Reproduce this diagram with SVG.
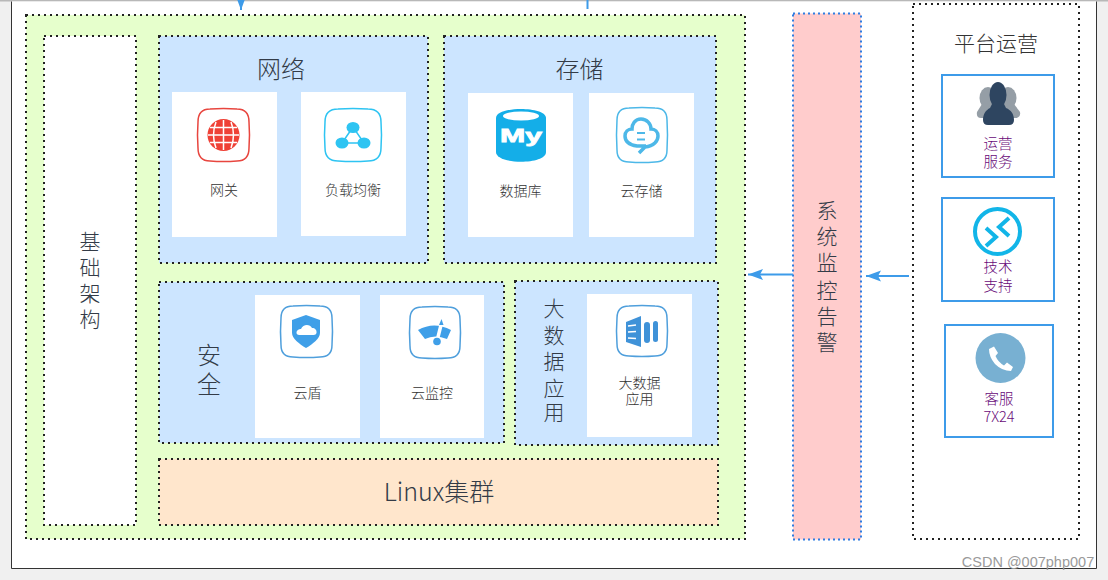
<svg xmlns="http://www.w3.org/2000/svg" width="1108" height="580" viewBox="0 0 1108 580">
<defs>
<style>
text{font-family:"Noto Sans CJK SC","Liberation Sans",sans-serif;text-anchor:middle}
.dot{stroke:#222;stroke-width:2;stroke-dasharray:2 4}
.panel{fill:#cce5ff}
.card{fill:#fff}
.title{font-size:24px;fill:#333b47;font-weight:300}
.lab{font-size:14px;fill:#333;font-weight:300}
.side{font-size:21px;fill:#333b47;font-weight:300}
.ops{fill:#fff;stroke:#3d9be9;stroke-width:2}
.oplab{font-size:14.500px;fill:#680a78;font-weight:300}
.conn{stroke:#3d9be9;stroke-width:2;fill:none}
.sq{fill:#fff;stroke:#4f9fdc;stroke-width:1.500}
.blue{fill:#3f9fe8}
</style>
<marker id="arr" markerUnits="userSpaceOnUse" markerWidth="16" markerHeight="12" refX="15" refY="6" orient="auto"><path d="M0 0.500L15 6L0 11.500L3 6Z" fill="#3d9be9"/></marker>
</defs>
<rect width="1108" height="580" fill="#f0f0f0"/>
<rect x="0" y="0" width="1108" height="1.500" fill="#b8b8b8"/>
<rect x="11.500" y="1.500" width="1085" height="567" fill="#fff"/>
<path d="M11.500 1.500V568.500H1096.500V1.500" fill="none" stroke="#333" stroke-width="1"/>

<g id="infra">
<rect x="26" y="15" width="719" height="524" fill="#e6ffcc" class="dot"/>
<rect x="44" y="36" width="92" height="489" fill="#fff" class="dot"/>
<text class="side"><tspan x="90" y="249">基</tspan><tspan x="90" y="275">础</tspan><tspan x="90" y="301">架</tspan><tspan x="90" y="327">构</tspan></text>
</g>

<g id="network">
<rect x="159" y="36" width="269" height="227" class="panel dot"/>
<text class="title" x="281" y="78">网络</text>
<rect x="172" y="92" width="105" height="145" class="card"/>
<rect x="301" y="92" width="105" height="144" class="card"/>
<g id="gateway">
<path d="M210 109Q223.500 108 237 109Q249 109 249 122Q250 135 249 148Q249 161 237 161Q223.500 162 210 161Q198 161 198 148Q197 135 198 122Q198 109 210 109Z" fill="#fff" stroke="#e8463f" stroke-width="1.500"/>
<circle cx="223.500" cy="135" r="16" fill="#ef4136"/>
<path d="M208 135H239M210 127.500H237M210 142.500H237M223.500 120V150M216 122Q211 135 216 148M231 122Q236 135 231 148" fill="none" stroke="#fff" stroke-width="1.500"/>
<text class="lab" x="224" y="195">网关</text>
</g>
<g id="lb">
<path d="M338 109Q353 108 368 109Q381 109 381 122Q382 135 381 148Q381 161 368 161Q353 162 338 161Q325 161 325 148Q324 135 325 122Q325 109 338 109Z" fill="#fff" stroke="#2ec4f2" stroke-width="1.500"/>
<path d="M353 127L342 143H364Z" fill="none" stroke="#2ec4f2" stroke-width="1.500"/>
<ellipse cx="353" cy="127.500" rx="6.500" ry="5.500" fill="#2ec4f2"/><ellipse cx="342" cy="143" rx="6.500" ry="5.500" fill="#2ec4f2"/><ellipse cx="364" cy="143" rx="6.500" ry="5.500" fill="#2ec4f2"/>
<text class="lab" x="353" y="195">负载均衡</text>
</g>
</g>

<g id="storage">
<rect x="444" y="36" width="272" height="227" class="panel dot"/>
<text class="title" x="579.500" y="78">存储</text>
<rect x="468" y="93" width="105" height="144" class="card"/>
<rect x="589" y="93" width="105" height="144" class="card"/>
<g id="db">
<path d="M496 118C496 106 546 106 546 118V152C546 165 496 165 496 152Z" fill="#14aee8"/>
<ellipse cx="521" cy="116" rx="18" ry="4.500" fill="#fff"/>
<text x="500" y="142" textLength="42" lengthAdjust="spacingAndGlyphs" style="font-family:'Liberation Sans',sans-serif;font-weight:700;font-size:19px;fill:#fff;stroke:#fff;stroke-width:0.800;text-anchor:start">My</text>
<text class="lab" x="520.500" y="196">数据库</text>
</g>
<g id="cloudstore">
<path d="M629 108Q642 107 655 108Q667 108 667 120Q668 135 667 150Q667 162 655 162Q642 163 629 162Q617 162 617 150Q616 135 617 120Q617 108 629 108Z" fill="#fff" stroke="#4db8e8" stroke-width="1.500"/>
<path d="M639 153L645 147C654 146 658 141 658 136C658 132 655 129 651 129C651 124 647 119 641 119C635 119 632 124 632 129C628 129 625 132 625 136C625 142 630 145 637 146L646 146" fill="none" stroke="#4db8e8" stroke-width="3.500"/>
<path d="M637 133H645M637 139.500H645" stroke="#4db8e8" stroke-width="2"/>
<text class="lab" x="641.500" y="196">云存储</text>
</g>
</g>

<g id="security">
<rect x="159" y="282" width="345" height="161" class="panel dot"/>
<text class="title"><tspan x="209" y="364">安</tspan><tspan x="209" y="393">全</tspan></text>
<rect x="255" y="295" width="105" height="143" class="card"/>
<rect x="380" y="295" width="104" height="143" class="card"/>
<g id="shield">
<path d="M293 306Q306.500 305 320 306Q332 306 332 318Q333 331.500 332 345Q332 357 320 357Q306.500 358 293 357Q281 357 281 345Q280 331.500 281 318Q281 306 293 306Z" class="sq"/>
<path d="M306 315L292 320V333C292 338 299 344 306 348C313 344 320 338 320 333V320Z" class="blue"/>
<path d="M296.500 333C296.500 330 299 329 301 329C303 324 310 324 312 328C315 328 317 330 316.500 333C316 335 314 335 312 335H299C298 335 296.500 334 296.500 333Z" fill="#fff"/>
<text class="lab" x="307.500" y="398">云盾</text>
</g>
<g id="monitor">
<path d="M422 307Q435 306 448 307Q460 307 460 319Q461 332.500 460 346Q460 358 448 358Q435 359 422 358Q410 358 410 346Q409 332.500 410 319Q410 307 422 307Z" class="sq"/>
<path d="M418 330Q434 321 451 330L447 339Q435 334 425 339Z" class="blue"/>
<path d="M442 321L437 341" stroke="#fff" stroke-width="3.500"/>
<path d="M441.500 319L439 325H443.500Z" class="blue"/>
<circle cx="437" cy="341.500" r="3.800" class="blue"/>
<text class="lab" x="432" y="398">云监控</text>
</g>
</g>

<g id="bigdata">
<rect x="515" y="281" width="203" height="164" class="panel dot"/>
<text class="side"><tspan x="554" y="316">大</tspan><tspan x="554" y="343">数</tspan><tspan x="554" y="369">据</tspan><tspan x="554" y="396">应</tspan><tspan x="554" y="420">用</tspan></text>
<rect x="587" y="294" width="105" height="143" class="card"/>
<g id="bdapp">
<path d="M629 306Q642 305 655 306Q667 306 667 318Q668 331 667 344Q667 356 655 356Q642 357 629 356Q617 356 617 344Q616 331 617 318Q617 306 629 306Z" class="sq"/>
<path d="M626 322L641 316V347L626 342Z" fill="#3f92d8"/>
<path d="M628 326L636 325M628 332L636 331.500M628 338L636 338.500" stroke="#fff" stroke-width="1.300"/>
<rect x="644" y="322" width="6" height="21" rx="3" fill="#3f92d8"/>
<rect x="653" y="321" width="5" height="21" rx="2.500" fill="#3f92d8"/>
<text class="lab" x="639.500" y="388">大数据</text><text class="lab" x="639.500" y="404">应用</text>
</g>
</g>

<g id="linux">
<rect x="159" y="459" width="559" height="66" fill="#ffe6cc" class="dot"/>
<text x="439" y="501" style="font-size:25px;fill:#333b47;font-weight:300">Linux集群</text>
</g>

<g id="monitoring">
<rect x="793" y="13.500" width="68" height="526" fill="#ffcccc" stroke="#2f7de1" stroke-width="2" stroke-dasharray="2 3"/>
<text class="side"><tspan x="827" y="218">系</tspan><tspan x="827" y="244">统</tspan><tspan x="827" y="270">监</tspan><tspan x="827" y="298">控</tspan><tspan x="827" y="324">告</tspan><tspan x="827" y="350">警</tspan></text>
</g>

<g id="operations">
<rect x="913" y="4" width="166" height="535" fill="#fff" class="dot"/>
<text x="996" y="51" style="font-size:21px;fill:#333;font-weight:300">平台运营</text>
<g id="ops-service">
<rect x="942" y="75" width="112" height="102" class="ops"/>
<g fill="#959ea6">
<ellipse cx="988" cy="98" rx="8.500" ry="11"/><ellipse cx="1008" cy="98" rx="8.500" ry="11"/>
<path d="M982 104L977 112Q976 118 981 118H1015Q1021 118 1020 112L1014 104Z"/>
</g>
<ellipse cx="998" cy="95" rx="8.500" ry="13" fill="#2e4560"/>
<path d="M992 104H1004L1006 108C1011 110 1014 114 1014 120Q1014 125 1009 125H988Q983 125 983 120C983 114 986 110 990 108Z" fill="#2e4560"/>
<text class="oplab" x="998" y="149">运营</text><text class="oplab" x="998" y="167">服务</text>
</g>
<g id="ops-support">
<rect x="942" y="198" width="112" height="103" class="ops"/>
<circle cx="997.500" cy="231.500" r="22.500" fill="#fff" stroke="#12b5e8" stroke-width="4"/>
<path d="M1009 218L999 227L1009 236M986 228L996 237L986 246" fill="none" stroke="#12b5e8" stroke-width="4"/>
<text class="oplab" x="998" y="272">技术</text><text class="oplab" x="998" y="291">支持</text>
</g>
<g id="ops-csr">
<rect x="945" y="325" width="108" height="112" class="ops"/>
<circle cx="1000.500" cy="358" r="25" fill="#78b0d2"/>
<path d="M989 349L994 346.500L998 353L995.500 356Q998 362 1004 365.500L1007 362.500L1013 367L1011 371Q1002 371 995 364Q989 357 989 349Z" fill="#fff"/>
<text class="oplab" x="999" y="404">客服</text><text class="oplab" x="999" y="422">7X24</text>
</g>
</g>

<g id="connectors">
<path class="conn" d="M793 274.500H748" marker-end="url(#arr)"/>
<path class="conn" d="M909 276H866" marker-end="url(#arr)"/>
<path class="conn" d="M241 -6V10" marker-end="url(#arr)"/>
<path class="conn" d="M587.500 0V9"/>
</g>
<text x="1028" y="567" style="font-family:'Liberation Sans',sans-serif;font-size:14.500px;fill:#9a9a9a">CSDN @007php007</text>
</svg>
